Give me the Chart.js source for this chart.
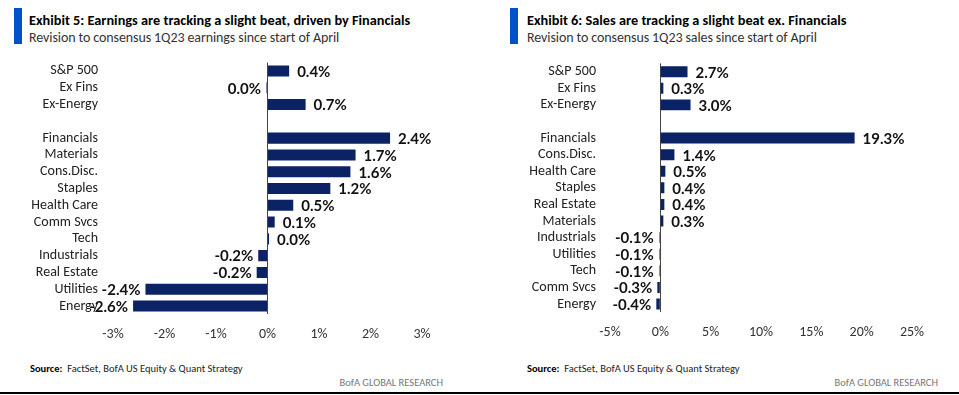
<!DOCTYPE html>
<html>
<head>
<meta charset="utf-8">
<script src="https://cdn.jsdelivr.net/npm/chart.js@4.4.1/dist/chart.umd.min.js"></script>
<style>
  html, body { margin: 0; padding: 0; background: #fff; }
  body { width: 959px; height: 395px; position: relative; overflow: hidden;
         font-family: "Carlito", "Liberation Sans Narrow", "Open Sans", sans-serif; }
  .bar { position: absolute; top: 8px; width: 8px; height: 36px; background: #0052cc; }
  .title { position: absolute; top: 11px; font-weight: bold; font-size: 14.3px; color: #000; white-space: nowrap; }
  .sub { position: absolute; top: 29px; font-size: 14px; letter-spacing: -0.1px; color: #333; white-space: nowrap; }
  .src { position: absolute; top: 362px; font-size: 10.5px; color: #222; white-space: nowrap; }
  .src b { color: #000; }
  .brand { position: absolute; top: 376px; font-size: 10.5px; color: #777; white-space: nowrap; }
  canvas { position: absolute; top: 0; }
  .rule { position: absolute; left: 0; top: 392px; width: 959px; height: 2px; background: #000; }
</style>
</head>
<body>
<div class="bar" style="left:14px"></div>
<div class="title" style="left:29px">Exhibit 5: Earnings are tracking a slight beat, driven by Financials</div>
<div class="sub" style="left:29px">Revision to consensus 1Q23 earnings since start of April</div>
<div class="bar" style="left:510px"></div>
<div class="title" style="left:527px">Exhibit 6: Sales are tracking a slight beat ex. Financials</div>
<div class="sub" style="left:527px">Revision to consensus 1Q23 sales since start of April</div>

<canvas id="c1" width="480" height="350" style="left:0px"></canvas>
<canvas id="c2" width="479" height="350" style="left:480px"></canvas>

<div class="src" style="left:30px"><b>Source:</b>&nbsp; FactSet, BofA US Equity &amp; Quant Strategy</div>
<div class="src" style="left:527px"><b>Source:</b>&nbsp; FactSet, BofA US Equity &amp; Quant Strategy</div>
<div class="brand" style="right:516px">BofA GLOBAL RESEARCH</div>
<div class="brand" style="right:21px">BofA GLOBAL RESEARCH</div>
<div class="rule"></div>

<script>
// ---- Data ----
const earningsCategories = ['S&P 500','Ex Fins','Ex-Energy','','Financials','Materials','Cons.Disc.','Staples','Health Care','Comm Svcs','Tech','Industrials','Real Estate','Utilities','Energy'];
const earningsValues = [0.42, -0.02, 0.74, null, 2.38, 1.71, 1.61, 1.22, 0.5, 0.14, 0.03, -0.18, -0.21, -2.37, -2.61];
const earningsTicks = [-3, -2, -1, 0, 1, 2, 3];

const salesCategories = ['S&P 500','Ex Fins','Ex-Energy','','Financials','Cons.Disc.','Health Care','Staples','Real Estate','Materials','Industrials','Utilities','Tech','Comm Svcs','Energy'];
const salesValues = [2.7, 0.3, 3.0, null, 19.3, 1.4, 0.5, 0.4, 0.4, 0.3, -0.1, -0.1, -0.1, -0.3, -0.4];
const salesTicks = [-5, 0, 5, 10, 15, 20, 25];

const NAVY = '#0b2265';
const FONT = '"Carlito", "Liberation Sans Narrow", "Open Sans", sans-serif';
const LABEL_FONT = 'bold 15px Lato, sans-serif';

function fmt(v) {
  let s = v.toFixed(1);
  if (s === '-0.0') s = '0.0';
  return s + '%';
}

const valueLabels = {
  id: 'valueLabels',
  afterDatasetsDraw(chart) {
    const ctx = chart.ctx;
    const meta = chart.getDatasetMeta(0);
    const data = chart.data.datasets[0].data;
    ctx.save();
    ctx.font = LABEL_FONT;
    ctx.fillStyle = '#111';
    ctx.textBaseline = 'middle';
    meta.data.forEach((el, i) => {
      const v = data[i];
      if (v === null || v === undefined) return;
      if (v >= 0) {
        ctx.textAlign = 'left';
        ctx.fillText(fmt(v), el.x + 8, el.y + 1);
      } else {
        ctx.textAlign = 'right';
        ctx.fillText(fmt(v), Math.min(el.x, el.base - 1) - 5, el.y + 1);
      }
    });
    ctx.restore();
  }
};

function makeChart(id, cats, vals, ticks, cfg) {
  return new Chart(document.getElementById(id), {
    type: 'bar',
    data: {
      labels: cats,
      datasets: [{
        data: vals,
        backgroundColor: NAVY,
        borderWidth: 0,
        barPercentage: 0.66,
        categoryPercentage: 1.0
      }]
    },
    plugins: [valueLabels],
    options: {
      indexAxis: 'y',
      responsive: false,
      animation: false,
      devicePixelRatio: 1,
      layout: { padding: { left: 0, right: cfg.padRight, top: cfg.padTop, bottom: 0 } },
      plugins: { legend: { display: false }, tooltip: { enabled: false } },
      scales: {
        x: {
          type: 'linear',
          min: ticks[0],
          max: ticks[ticks.length - 1],
          afterBuildTicks(scale) { scale.ticks = ticks.map(v => ({ value: v })); },
          afterFit(scale) { scale.height = cfg.xHeight; },
          border: { display: false },
          grid: {
            drawTicks: false,
            color: c => (c.tick && c.tick.value === 0) ? '#444' : 'rgba(0,0,0,0)',
            lineWidth: 1
          },
          ticks: {
            autoSkip: false, maxRotation: 0, padding: 12,
            color: '#333',
            font: { family: FONT, size: 14 },
            callback: v => v + '%'
          }
        },
        y: {
          afterFit(scale) { scale.width = cfg.yWidth; },
          border: { display: false },
          grid: { display: false, drawTicks: false },
          ticks: {
            autoSkip: false, padding: cfg.yPad,
            color: '#222',
            font: { family: FONT, size: 14 }
          }
        }
      }
    }
  });
}

makeChart('c1', earningsCategories, earningsValues, earningsTicks,
  { padRight: 58, padTop: 62.6, xHeight: 35.6, yWidth: 113, yPad: 15 });
makeChart('c2', salesCategories, salesValues, salesTicks,
  { padRight: 47, padTop: 63.4, xHeight: 37.7, yWidth: 130, yPad: 14 });
</script>
</body>
</html>
